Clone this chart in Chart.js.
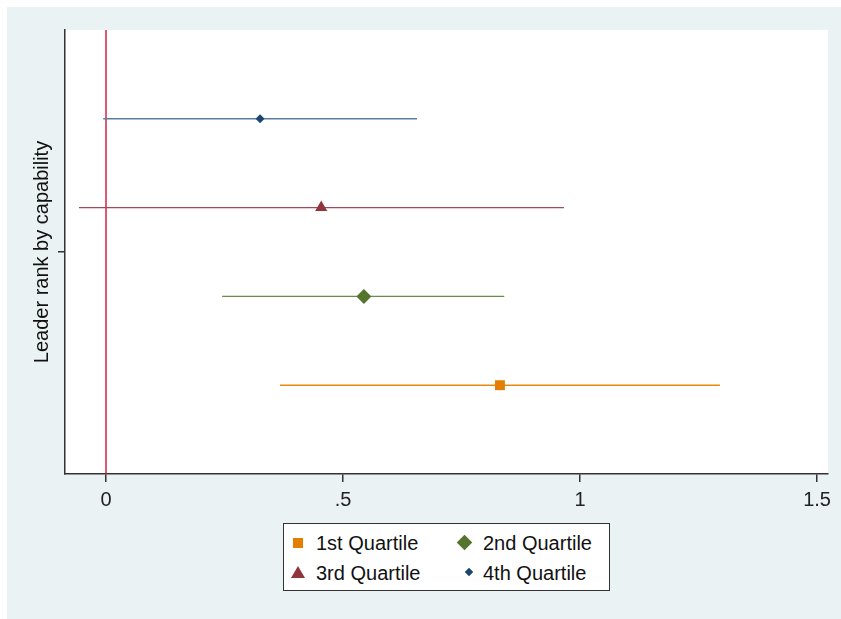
<!DOCTYPE html>
<html lang="en">
<head>
<meta charset="UTF-8">
<title>Leader rank by capability</title>
<script src="https://cdn.jsdelivr.net/npm/chart.js"></script>
<style>
  body { margin: 0; background: #fff; overflow: hidden; }
  .graph { position: absolute; left: 7px; top: 7px; width: 834px; height: 612px; background: #eaf2f3; }
  #chart { position: absolute; left: 0; top: 0; }
  .legend { position: absolute; left: 283px; top: 523px; width: 325px; height: 66px; background: #fff;
            border: 1.5px solid #333; font-family: Arial, "Liberation Sans", sans-serif; font-size: 20px; color: #111; }
  .item { position: absolute; line-height: 22px; white-space: nowrap; }
  .mk { position: absolute; }
  .sq { width: 10px; height: 10px; background: #e37e00; }
  .dia { width: 11px; height: 11px; background: #55752f; transform: rotate(45deg); }
  .tri { width: 0; height: 0; border-left: 7px solid transparent; border-right: 7px solid transparent; border-bottom: 12px solid #90353b; }
  .sdia { width: 6px; height: 6px; background: #1a476f; transform: rotate(45deg); }
</style>
</head>
<body>
<div class="graph"></div>
<canvas id="chart" width="841" height="619"></canvas>

<div class="legend">
  <div class="mk sq" style="left:9px; top:14px;"></div>
  <div class="item" style="left:32px; top:8px;">1st Quartile</div>
  <div class="mk dia" style="left:175px; top:13px;"></div>
  <div class="item" style="left:199px; top:8px;">2nd Quartile</div>
  <div class="mk tri" style="left:7px; top:42px;"></div>
  <div class="item" style="left:32px; top:38px;">3rd Quartile</div>
  <div class="mk sdia" style="left:182px; top:45px;"></div>
  <div class="item" style="left:199px; top:38px;">4th Quartile</div>
</div>

<script>
  // coeficientes e intervalos de confiança
  const series = ['1st Quartile', '2nd Quartile', '3rd Quartile', '4th Quartile'];
  const estimates = [0.831, 0.544, 0.454, 0.325];
  const ciLow = [0.367, 0.245, -0.057, -0.006];
  const ciHigh = [1.295, 0.840, 0.966, 0.656];
  const rowPos = [1, 2, 3, 4];
  const xTicks = [0, 0.5, 1, 1.5];
  const xTickLabels = ['0', '.5', '1', '1.5'];
  const yTicks = [2.5];
  const refLine = 0;

  const markerColors = ['#e37e00', '#55752f', '#90353b', '#1a476f'];
  const lineColors = ['#e8890f', '#6a8a48', '#a04a55', '#5c7c9c'];
  const pointStyles = ['rect', 'rectRot', 'triangle', 'rectRot'];
  const pointSizes = [7, 7.5, 7, 4.5];

  const datasets = [];
  series.forEach((name, i) => {
    datasets.push({
      label: name,
      data: [{ x: estimates[i], y: rowPos[i] }],
      pointStyle: pointStyles[i],
      pointRadius: pointSizes[i],
      backgroundColor: markerColors[i],
      borderColor: markerColors[i],
      borderWidth: 0,
      order: 0
    });
    datasets.push({
      label: name + ' CI',
      data: [{ x: ciLow[i], y: rowPos[i] }, { x: ciHigh[i], y: rowPos[i] }],
      showLine: true,
      borderColor: lineColors[i],
      borderWidth: 1.4,
      pointRadius: 0,
      order: 1
    });
  });
  datasets.push({
    label: 'ref',
    data: [{ x: refLine, y: 0 }, { x: refLine, y: 5 }],
    showLine: true,
    borderColor: '#d0103a',
    borderWidth: 1.4,
    pointRadius: 0,
    order: 2
  });

  const fundoBranco = {
    id: 'fundoBranco',
    beforeDraw(chart) {
      const a = chart.chartArea;
      chart.ctx.save();
      chart.ctx.fillStyle = '#fff';
      chart.ctx.fillRect(a.left, a.top, a.right - a.left, a.bottom - a.top);
      chart.ctx.restore();
    }
  };

  const fonte = { family: 'Arial, "Liberation Sans", sans-serif', size: 20 };

  new Chart(document.getElementById('chart'), {
    type: 'scatter',
    data: { datasets: datasets },
    options: {
      responsive: false,
      animation: false,
      layout: { padding: { top: 30, right: 13, left: 0, bottom: 0 } },
      plugins: { legend: { display: false }, tooltip: { enabled: false } },
      scales: {
        x: {
          type: 'linear',
          min: -0.0865,
          max: 1.523,
          afterBuildTicks: axis => { axis.ticks = xTicks.map(v => ({ value: v })); },
          afterFit: s => { s.height = 145; },
          ticks: {
            autoSkip: false,
            maxRotation: 0,
            padding: 6,
            color: '#222',
            font: fonte,
            callback: v => xTickLabels[xTicks.indexOf(v)]
          },
          grid: { drawOnChartArea: false, drawTicks: true, tickLength: 8, color: '#333', lineWidth: 1.5 },
          border: { color: '#333', width: 1.5 }
        },
        y: {
          type: 'linear',
          min: 0,
          max: 5,
          afterBuildTicks: axis => { axis.ticks = yTicks.map(v => ({ value: v })); },
          afterFit: s => { s.width = 65; },
          ticks: { callback: () => '', padding: 0 },
          grid: { drawOnChartArea: false, drawTicks: true, tickLength: 7, color: '#333', lineWidth: 1.5 },
          border: { color: '#333', width: 1.5 },
          title: {
            display: true,
            text: 'Leader rank by capability',
            color: '#111',
            font: fonte,
            padding: { top: 30, bottom: 0 }
          }
        }
      }
    },
    plugins: [fundoBranco]
  });
</script>
</body>
</html>
